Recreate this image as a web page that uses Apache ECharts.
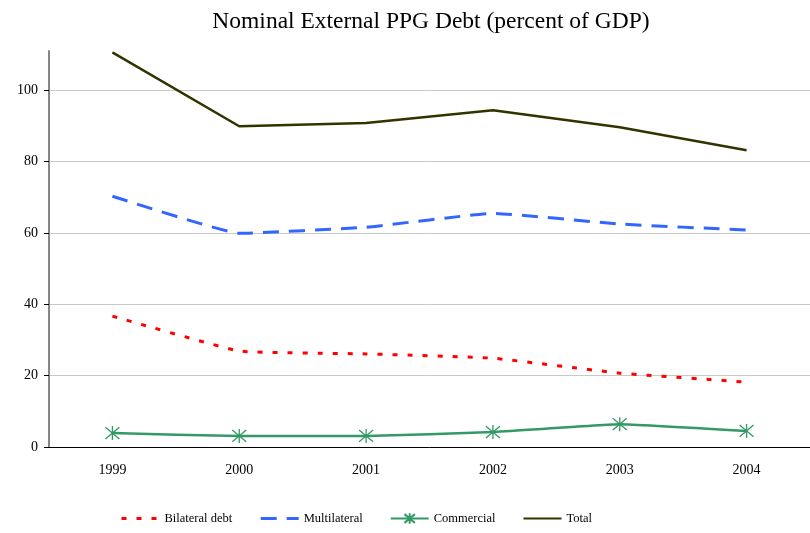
<!DOCTYPE html>
<html>
<head>
<meta charset="utf-8">
<script src="https://cdn.jsdelivr.net/npm/echarts@6/dist/echarts.min.js"></script>
<style>
    html, body { margin:0; padding:0; background:#fff; }
    #chart { width:810px; height:533px; }
</style>
</head>
<body>
<div id="chart"></div>
<script>
    var years = ['1999', '2000', '2001', '2002', '2003', '2004'];
    var bilateral = [36.7, 26.9, 26.1, 24.9, 20.7, 18.2];
    var multilateral = [70.3, 59.9, 61.6, 65.5, 62.5, 60.8];
    var commercial = [3.9, 3.1, 3.1, 4.2, 6.4, 4.5];
    var total = [110.6, 89.9, 90.8, 94.4, 89.6, 83.2];
    var yTicks = [0, 20, 40, 60, 80, 100];

    var font = 'Liberation Serif';
    var starPath = 'path://M5,0 L5,10 M0.8,0.8 L9.2,9.2 M9.2,0.8 L0.8,9.2';
    var starStyle = { color: 'transparent', borderColor: '#339966', borderWidth: 1.3 };
    var redDots = { color: '#ff0000', width: 3, type: [5, 10] };
    var blueDash = { color: '#3366ff', width: 3, type: [16, 10] };

    var myChart = echarts.init(document.getElementById('chart'));
    var option = {
        animation: false,
        title: {
            text: 'Nominal External PPG Debt (percent of GDP)',
            left: 426,
            top: 5,
            textAlign: 'center',
            textStyle: { fontFamily: font, fontSize: 23.5, fontWeight: 'normal', color: '#000' }
        },
        legend: {
            left: 120,
            top: 512,
            padding: 0,
            itemWidth: 38,
            itemHeight: 13,
            itemGap: 27,
            textStyle: { fontFamily: font, fontSize: 12.5, color: '#000' },
            data: [
                { name: 'Bilateral debt', itemStyle: { opacity: 0 }, lineStyle: redDots },
                { name: 'Multilateral', itemStyle: { opacity: 0 }, lineStyle: blueDash },
                { name: 'Commercial' },
                { name: 'Total', itemStyle: { opacity: 0 } }
            ]
        },
        grid: {
            left: 49,
            top: 51,
            width: 767,
            height: 396
        },
        xAxis: {
            type: 'category',
            data: years,
            axisLine: { lineStyle: { color: '#000', width: 1 } },
            axisTick: { length: 5, lineStyle: { color: '#000' } },
            axisLabel: { fontFamily: font, fontSize: 14, color: '#000', margin: 16 }
        },
        yAxis: {
            type: 'value',
            min: 0,
            max: 111,
            axisLine: { show: true, lineStyle: { color: '#868686', width: 2 } },
            axisTick: { show: true, length: 5, customValues: yTicks, lineStyle: { color: '#000' } },
            axisLabel: { fontFamily: font, fontSize: 14, color: '#000', margin: 11, customValues: yTicks },
            splitLine: { show: true, lineStyle: { color: '#c8c8c8', width: 1 } }
        },
        series: [
            {
                name: 'Bilateral debt',
                type: 'line',
                data: bilateral,
                smooth: 0.1,
                symbol: 'none',
                itemStyle: { color: '#ff0000' },
                lineStyle: redDots
            },
            {
                name: 'Multilateral',
                type: 'line',
                data: multilateral,
                smooth: 0.1,
                symbol: 'none',
                itemStyle: { color: '#3366ff' },
                lineStyle: blueDash
            },
            {
                name: 'Commercial',
                type: 'line',
                data: commercial,
                smooth: 0.1,
                symbol: starPath,
                symbolSize: 14,
                itemStyle: starStyle,
                lineStyle: { color: '#339966', width: 2.5 }
            },
            {
                name: 'Total',
                type: 'line',
                data: total,
                symbol: 'none',
                itemStyle: { color: '#333300' },
                lineStyle: { color: '#333300', width: 2.5 }
            }
        ]
    };
    myChart.setOption(option);
</script>
</body>
</html>
